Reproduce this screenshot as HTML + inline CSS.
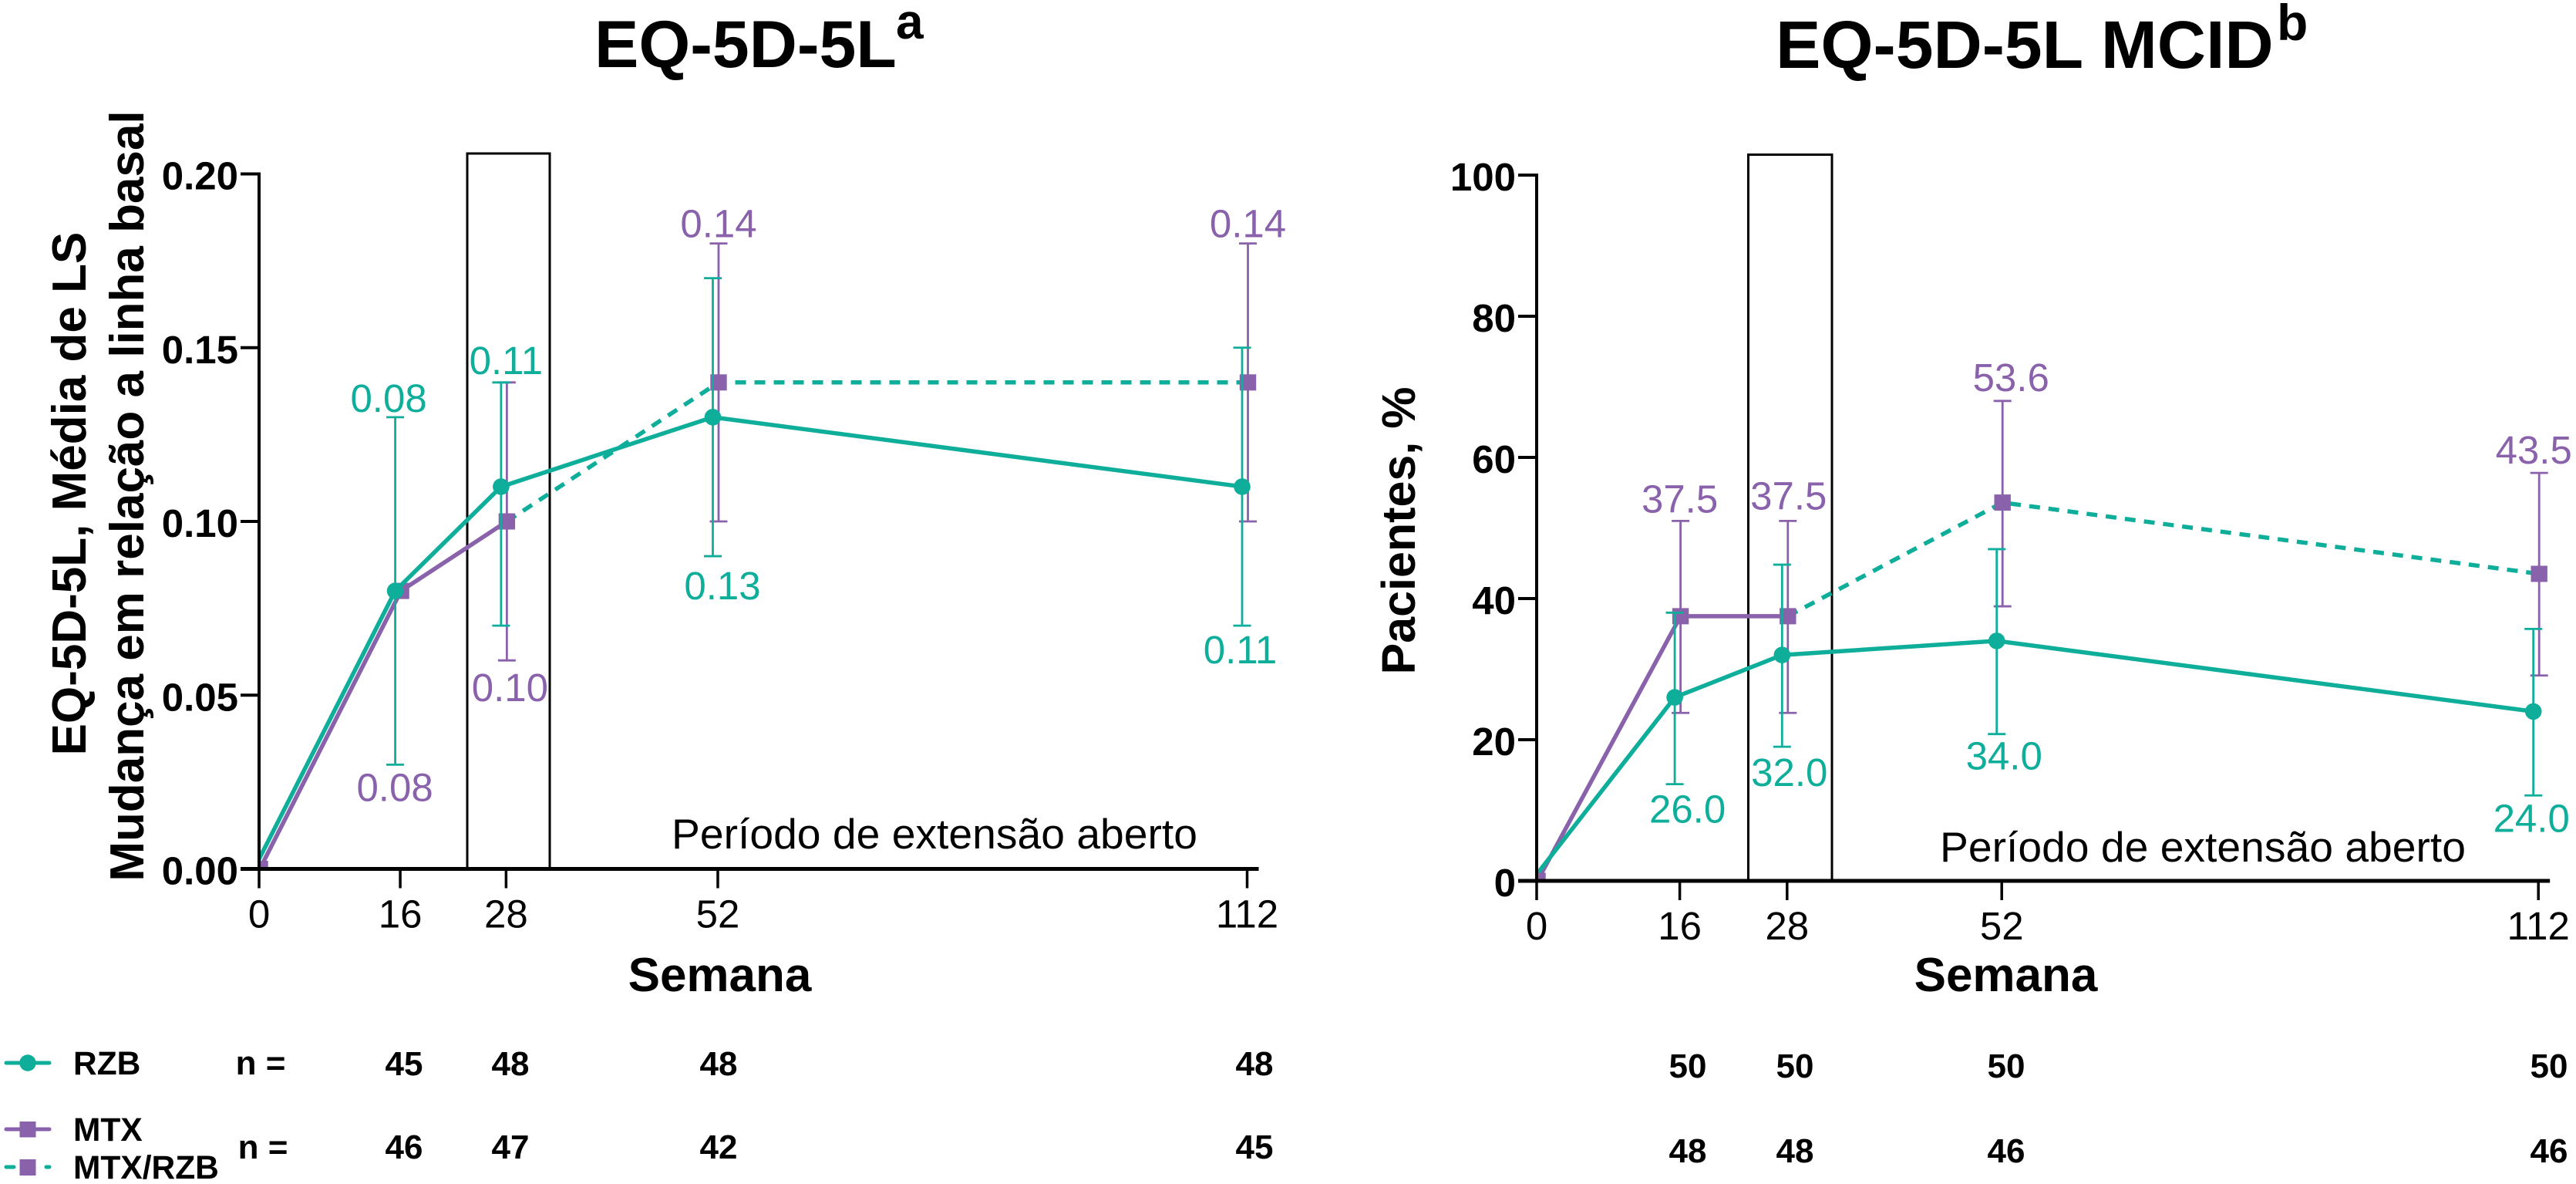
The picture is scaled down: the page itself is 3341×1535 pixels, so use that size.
<!DOCTYPE html>
<html lang="pt">
<head>
<meta charset="utf-8">
<title>EQ-5D-5L</title>
<style>
html,body{margin:0;padding:0;background:#fff;width:3341px;height:1535px;overflow:hidden}
svg{display:block}
text{font-family:"Liberation Sans",Arial,sans-serif}
.b{font-weight:bold;fill:#000}
.tbl{font-weight:bold;font-size:44px;text-anchor:middle;fill:#000}
.leg{font-weight:bold;font-size:42.5px;fill:#000}
</style>
</head>
<body>
<svg id="figure" xmlns="http://www.w3.org/2000/svg" width="3341" height="1535" viewBox="0 0 3341 1535">
  <rect x="0" y="0" width="3341" height="1535" fill="#fff"/>

  <text class="b" x="771" y="87" font-size="86">EQ-5D-5L</text>
  <text class="b" x="1162" y="50" font-size="64">a</text>
  <text class="b" x="2303" y="88" font-size="87.6">EQ-5D-5L MCID</text>
  <text class="b" x="2953" y="52" font-size="66">b</text>

  <text class="b" font-size="62" text-anchor="middle" transform="translate(111 640) rotate(-90)">EQ-5D-5L, Média de LS</text>
  <text class="b" font-size="62" text-anchor="middle" transform="translate(186 643) rotate(-90)">Mudança em relação a linha basal</text>
  <text class="b" font-size="61" text-anchor="middle" transform="translate(1835 688) rotate(-90)">Pacientes, %</text>

  <text class="b" font-size="62" text-anchor="middle" x="933.5" y="1285">Semana</text>
  <text class="b" font-size="62" text-anchor="middle" x="2601.5" y="1285">Semana</text>

  <text font-size="54.5" x="871" y="1100" textLength="682" lengthAdjust="spacingAndGlyphs" fill="#000">Período de extensão aberto</text>
  <text font-size="54.5" x="2516" y="1117" textLength="682" lengthAdjust="spacingAndGlyphs" fill="#000">Período de extensão aberto</text>

  <g>
    <line x1="8" x2="64" y1="1378" y2="1378" stroke="#0fae9a" stroke-width="5" stroke-linecap="round"/>
    <circle cx="36" cy="1378" r="10.7" fill="#0fae9a"/>
    <text class="leg" x="95" y="1393">RZB</text>
    <line x1="8" x2="64" y1="1464" y2="1464" stroke="#8a62ac" stroke-width="5" stroke-linecap="round"/>
    <rect x="25.5" y="1454" width="21" height="20.5" fill="#8a62ac"/>
    <text class="leg" x="95" y="1479">MTX</text>
    <line x1="8" x2="18" y1="1513" y2="1513" stroke="#0fae9a" stroke-width="5" stroke-linecap="round"/>
    <line x1="60" x2="64" y1="1513" y2="1513" stroke="#0fae9a" stroke-width="5" stroke-linecap="round"/>
    <rect x="25.5" y="1503" width="21" height="21" fill="#8a62ac"/>
    <text class="leg" x="95" y="1528">MTX/RZB</text>
  </g>

  <g>
    <text class="tbl" x="338" y="1393">n =</text>
    <text class="tbl" x="524" y="1394">45</text>
    <text class="tbl" x="662" y="1394">48</text>
    <text class="tbl" x="932" y="1394">48</text>
    <text class="tbl" x="1627" y="1394">48</text>
    <text class="tbl" x="341" y="1502">n =</text>
    <text class="tbl" x="524" y="1502">46</text>
    <text class="tbl" x="662" y="1502">47</text>
    <text class="tbl" x="932" y="1502">42</text>
    <text class="tbl" x="1627" y="1502">45</text>
  </g>
  <g>
    <text class="tbl" x="2189" y="1397">50</text>
    <text class="tbl" x="2328" y="1397">50</text>
    <text class="tbl" x="2602" y="1397">50</text>
    <text class="tbl" x="3306" y="1397">50</text>
    <text class="tbl" x="2189" y="1507">48</text>
    <text class="tbl" x="2328" y="1507">48</text>
    <text class="tbl" x="2602" y="1507">46</text>
    <text class="tbl" x="3306" y="1507">46</text>
  </g>
</svg>

<script>
// Shared categories
const weeks = [0, 16, 28, 52, 112];

// Left chart: EQ-5D-5L
const leftYTicks = [0, 0.05, 0.10, 0.15, 0.20];
const leftYTickLabels = ['0.00', '0.05', '0.10', '0.15', '0.20'];
const leftRzb = [0, 0.08, 0.11, 0.13, 0.11];
const leftRzbLow = [null, 0.03, 0.07, 0.09, 0.07];
const leftRzbHigh = [null, 0.13, 0.14, 0.17, 0.15];
const leftMtx = [0, 0.08, 0.10, null, null];
const leftMtxRzb = [null, null, 0.10, 0.14, 0.14];
const leftMtxLow = [null, null, 0.06, 0.10, 0.10];
const leftMtxHigh = [null, null, 0.14, 0.18, 0.18];
const leftRzbPrinted = [null, '0.08', '0.11', '0.13', '0.11'];
const leftMtxPrinted = [null, '0.08', '0.10', '0.14', '0.14'];

// Right chart: EQ-5D-5L MCID
const rightYTicks = [0, 20, 40, 60, 80, 100];
const rightYTickLabels = ['0', '20', '40', '60', '80', '100'];
const rightRzb = [0, 26.0, 32.0, 34.0, 24.0];
const rightRzbLow = [null, 13.7, 19.0, 20.8, 12.1];
const rightRzbHigh = [null, 38.0, 44.8, 47.0, 35.7];
const rightMtx = [0, 37.5, 37.5, null, null];
const rightMtxRzb = [null, null, 37.5, 53.6, 43.5];
const rightMtxLow = [null, 23.8, 23.8, 38.9, 29.1];
const rightMtxHigh = [null, 51.0, 51.0, 68.0, 57.8];
const rightRzbPrinted = [null, '26.0', '32.0', '34.0', '24.0'];
const rightMtxPrinted = [null, '37.5', '37.5', '53.6', '43.5'];

const TEAL = '#0fae9a';
const PURPLE = '#8a62ac';
const SVGNS = 'http://www.w3.org/2000/svg';
const root = document.getElementById('figure');

function make(parent, tag, attrs, content) {
  const node = document.createElementNS(SVGNS, tag);
  for (const k in attrs) node.setAttribute(k, attrs[k]);
  if (content !== undefined) node.textContent = content;
  parent.appendChild(node);
  return node;
}

function pathFrom(xs, ys) {
  let d = '';
  xs.forEach(function (px, i) {
    if (ys[i] === null) return;
    d += (d ? 'L' : 'M') + px + ' ' + ys[i] + ' ';
  });
  return d;
}

function drawChart(cfg) {
  const xTick = function (w) { return cfg.x0 + (w / 112) * cfg.xSpan; };
  const yPos = function (v) { return cfg.y0 - (v / cfg.yMax) * cfg.ySpan; };
  const xTeal = function (i) { return xTick(weeks[i]) - 6.5; };
  const xPurple = function (i) { return xTick(weeks[i]) + 1; };
  const yOf = function (arr) { return arr.map(function (v) { return v === null ? null : yPos(v); }); };

  const g = make(root, 'g', {});
  
  

  const clipId = cfg.name + '-clip';
  const defs = make(g, 'defs', {});
  const clip = make(defs, 'clipPath', { id: clipId });
  make(clip, 'rect', { x: cfg.x0, y: 0, width: 3341 - cfg.x0, height: cfg.y0 });

  // Week 28 highlight box
  const box = make(g, 'rect', { x: cfg.boxLeft, y: cfg.boxTop, width: cfg.boxRight - cfg.boxLeft, height: cfg.y0 - cfg.boxTop, fill: 'none', stroke: '#000', 'stroke-width': 3 });
  
  

  // Error bars
  function errorBars(low, high, xf, color, series) {
    low.forEach(function (lo, i) {
      if (lo === null || high[i] === null) return;
      const px = xf(i);
      const d = 'M' + px + ' ' + yPos(high[i]) + ' L' + px + ' ' + yPos(lo) +
        ' M' + (px - 11.5) + ' ' + yPos(high[i]) + ' L' + (px + 11.5) + ' ' + yPos(high[i]) +
        ' M' + (px - 11.5) + ' ' + yPos(lo) + ' L' + (px + 11.5) + ' ' + yPos(lo);
      const bar = make(g, 'path', { d: d, fill: 'none', stroke: color, 'stroke-width': 2.8 });
      
      
    });
  }

  const xsPurple = weeks.map(function (w, i) { return xPurple(i); });
  const xsTeal = weeks.map(function (w, i) { return xTeal(i); });

  errorBars(cfg.mtxLow, cfg.mtxHigh, xPurple, PURPLE, 'mtx');

  const plot = make(g, 'g', { 'clip-path': 'url(#' + clipId + ')' });
  
  

  const mtxLine = make(plot, 'path', { d: pathFrom(xsPurple, yOf(cfg.mtx)), fill: 'none', stroke: PURPLE, 'stroke-width': 5.5, 'stroke-linejoin': 'round' });
  
  

  const dashLine = make(plot, 'path', { d: pathFrom(xsPurple, yOf(cfg.mtxRzb)), fill: 'none', stroke: TEAL, 'stroke-width': 5.5, 'stroke-dasharray': '14 11' });
  
  

  function square(i, v) {
    const s = make(plot, 'rect', { x: xPurple(i) - 10.7, y: yPos(v) - 10.5, width: 21.4, height: 21, fill: PURPLE });
    
    
  }
  weeks.forEach(function (w, i) {
    if (i === 0) return;
    const v = cfg.mtx[i] !== null ? cfg.mtx[i] : cfg.mtxRzb[i];
    if (v !== null) square(i, v);
  });

  const bars2 = make(plot, 'g', {});
  
  
  cfg.rzbLow.forEach(function (lo, i) {
    if (lo === null || cfg.rzbHigh[i] === null) return;
    const px = xTeal(i);
    const hi = yPos(cfg.rzbHigh[i]);
    const low = yPos(lo);
    const d = 'M' + px + ' ' + hi + ' L' + px + ' ' + low +
      ' M' + (px - 11.5) + ' ' + hi + ' L' + (px + 11.5) + ' ' + hi +
      ' M' + (px - 11.5) + ' ' + low + ' L' + (px + 11.5) + ' ' + low;
    const bar = make(bars2, 'path', { d: d, fill: 'none', stroke: TEAL, 'stroke-width': 2.8 });
    
    
  });

  const rzbLine = make(bars2, 'path', { d: pathFrom(xsTeal, yOf(cfg.rzb)), fill: 'none', stroke: TEAL, 'stroke-width': 5.5, 'stroke-linejoin': 'round' });
  
  

  cfg.rzb.forEach(function (v, i) {
    if (i === 0) return;
    const c = make(bars2, 'circle', { cx: xTeal(i), cy: yPos(v), r: 10.8, fill: TEAL });
    
    
  });
  square(0, cfg.mtx[0]);

  // Axes
  const yAxis = make(g, 'line', { x1: cfg.x0, x2: cfg.x0, y1: yPos(cfg.yMax) - 2, y2: cfg.y0, stroke: '#000', 'stroke-width': 4 });
  
  

  const xAxis = make(g, 'line', { x1: cfg.x0 - 24, x2: xTick(112) + 15, y1: cfg.y0, y2: cfg.y0, stroke: '#000', 'stroke-width': 5 });
  
  

  cfg.yTicks.forEach(function (v, i) {
    const t = make(g, 'line', { x1: cfg.x0 - 24, x2: cfg.x0, y1: yPos(v), y2: yPos(v), stroke: '#000', 'stroke-width': 4 });
    
    
    const lab = make(g, 'text', { x: cfg.x0 - 27, y: yPos(v) + 20, 'text-anchor': 'end', 'font-size': 51, 'font-weight': 'bold', fill: '#000' }, cfg.yTickLabels[i]);
    
    
  });

  weeks.forEach(function (w) {
    const t = make(g, 'line', { x1: xTick(w), x2: xTick(w), y1: cfg.y0, y2: cfg.y0 + 25, stroke: '#000', 'stroke-width': 3.5 });
    
    
    const lab = make(g, 'text', { x: xTick(w), y: cfg.y0 + 76, 'text-anchor': 'middle', 'font-size': 51, fill: '#000' }, String(w));
    
    
  });

  // Printed values, placed relative to the whisker they sit beside
  return function printed(series, i, anchorArr, dx, dy) {
    const str = series === 'rzb' ? cfg.rzbPrinted[i] : cfg.mtxPrinted[i];
    const color = series === 'rzb' ? TEAL : PURPLE;
    const lab = make(g, 'text', { x: xTick(weeks[i]) + dx, y: yPos(anchorArr[i]) + dy + 18, 'text-anchor': 'middle', 'font-size': 51, fill: color }, str);
    
    
  };
}

const leftLabel = drawChart({
  name: 'left',
  x0: 336, xSpan: 1281.5, y0: 1126.5, ySpan: 901, yMax: 0.20,
  boxLeft: 606, boxRight: 713, boxTop: 199,
  yTicks: leftYTicks, yTickLabels: leftYTickLabels,
  rzb: leftRzb, rzbLow: leftRzbLow, rzbHigh: leftRzbHigh,
  mtx: leftMtx, mtxRzb: leftMtxRzb, mtxLow: leftMtxLow, mtxHigh: leftMtxHigh,
  rzbPrinted: leftRzbPrinted, mtxPrinted: leftMtxPrinted
});
leftLabel('rzb', 1, leftRzbHigh, -15, -25);
leftLabel('rzb', 2, leftRzbHigh, 0, -29);
leftLabel('rzb', 3, leftRzbLow, 6, 38);
leftLabel('rzb', 4, leftRzbLow, -9, 31);
leftLabel('mtx', 1, leftRzbLow, -7, 29);
leftLabel('mtx', 2, leftMtxLow, 5, 35);
leftLabel('mtx', 3, leftMtxHigh, 1, -26);
leftLabel('mtx', 4, leftMtxHigh, 1, -26);

const rightLabel = drawChart({
  name: 'right',
  x0: 1993, xSpan: 1299.2, y0: 1142, ySpan: 915, yMax: 100,
  boxLeft: 2267.5, boxRight: 2376, boxTop: 200.5,
  yTicks: rightYTicks, yTickLabels: rightYTickLabels,
  rzb: rightRzb, rzbLow: rightRzbLow, rzbHigh: rightRzbHigh,
  mtx: rightMtx, mtxRzb: rightMtxRzb, mtxLow: rightMtxLow, mtxHigh: rightMtxHigh,
  rzbPrinted: rightRzbPrinted, mtxPrinted: rightMtxPrinted
});
rightLabel('mtx', 1, rightMtxHigh, 0, -29);
rightLabel('mtx', 2, rightMtxHigh, 2, -33);
rightLabel('mtx', 3, rightMtxHigh, 12, -31);
rightLabel('mtx', 4, rightMtxHigh, -6, -30);
rightLabel('rzb', 1, rightRzbLow, 10, 32);
rightLabel('rzb', 2, rightRzbLow, 3, 33);
rightLabel('rzb', 3, rightRzbLow, 3, 28);
rightLabel('rzb', 4, rightRzbLow, -9, 29);
</script>
</body>
</html>
